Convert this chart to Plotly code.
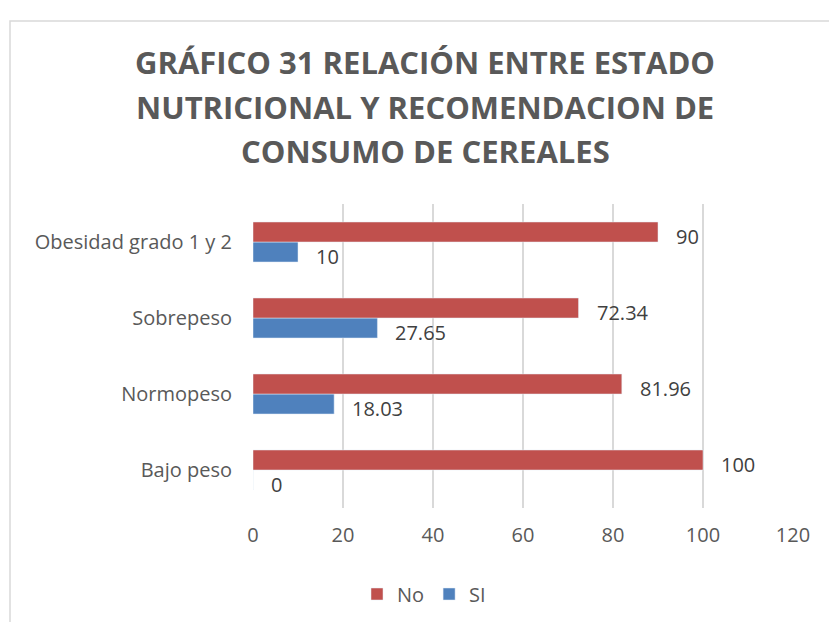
import plotly.graph_objects as go

categorias = ["Bajo peso", "Normopeso", "Sobrepeso", "Obesidad grado 1 y 2"]
valores_no = [100, 81.96, 72.34, 90]
valores_si = [0, 18.03, 27.65, 10]
etiquetas_no = ["100", "81.96", "72.34", "90"]
etiquetas_si = ["0", "18.03", "27.65", "10"]
ticks_x = [0, 20, 40, 60, 80, 100, 120]
titulo = ["GRÁFICO 31 RELACIÓN ENTRE ESTADO",
          "NUTRICIONAL Y RECOMENDACION DE",
          "CONSUMO DE CEREALES"]

fuente = "Open Sans, Liberation Sans, sans-serif"
gris = "#595959"

# plot area in pixels
L, R, T, B = 253, 36, 204, 114
W, H = 829, 622
pw, ph = W - L - R, H - T - B


def px_x(x):
    return (x - L) / pw


def px_y(y):
    return (H - B - y) / ph


fig = go.Figure()
# SI first so it sits below No inside each group
fig.add_trace(go.Bar(y=categorias, x=valores_si, name="SI", orientation="h",
                     marker_color="#4F81BD", legendrank=2))
fig.add_trace(go.Bar(y=categorias, x=valores_no, name="No", orientation="h",
                     marker_color="#C0504D", legendrank=1))

anotaciones = []
for cat, v, t in zip(categorias, valores_no, etiquetas_no):
    anotaciones.append(dict(x=v, y=cat, text=t, showarrow=False, xanchor="left",
                            xshift=16, yshift=6, font=dict(size=20, color="#404040")))
for cat, v, t in zip(categorias, valores_si, etiquetas_si):
    anotaciones.append(dict(x=v, y=cat, text=t, showarrow=False, xanchor="left",
                            xshift=16, yshift=-14, font=dict(size=20, color="#404040")))
for linea, yc in zip(titulo, [62, 106.5, 151]):
    anotaciones.append(dict(x=px_x(425), y=px_y(yc), xref="paper", yref="paper",
                            text="<b>" + linea + "</b>", showarrow=False,
                            xanchor="center", yanchor="middle",
                            font=dict(size=31, color=gris, family=fuente)))

fig.update_layout(
    width=W, height=H,
    margin=dict(l=L, r=R, t=T, b=B),
    paper_bgcolor="white", plot_bgcolor="white",
    font=dict(family=fuente, color=gris, size=20),
    barmode="group", bargap=0.474, bargroupgap=0,
    xaxis=dict(range=[0, 120], tickvals=ticks_x, showgrid=True, gridcolor="#D9D9D9",
               gridwidth=1.5, zeroline=False, showline=False, ticks="",
               ticklabelstandoff=13,
               tickfont=dict(size=20, color=gris), automargin=False),
    yaxis=dict(showgrid=False, showline=False, ticks="", ticklabelstandoff=20,
               tickfont=dict(size=20, color=gris), automargin=False),
    legend=dict(orientation="h", xref="container", x=424 / W, xanchor="center",
                yref="container", y=1 - 594 / H, yanchor="middle",
                font=dict(size=20, color=gris)),
    showlegend=True,
    annotations=anotaciones,
    shapes=[dict(type="rect", xref="paper", yref="paper",
                 x0=px_x(10), x1=1.3, y0=-0.6, y1=px_y(21),
                 line=dict(color="#D9D9D9", width=1.5), fillcolor="rgba(0,0,0,0)",
                 layer="below")]
)

fig.write_html("out.html", config={"displayModeBar": False},
               post_script="document.body.style.margin='0px';")
